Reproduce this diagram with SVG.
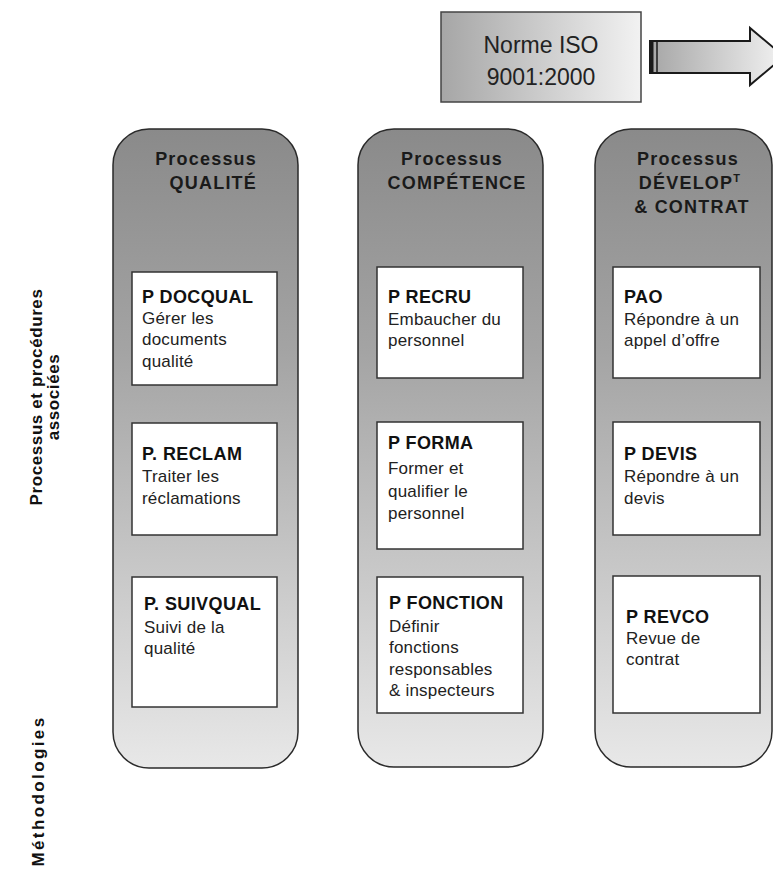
<svg xmlns="http://www.w3.org/2000/svg" width="773" height="873" viewBox="0 0 773 873">
<defs>
<linearGradient id="colGrad" x1="0" y1="0" x2="0" y2="1">
<stop offset="0" stop-color="#8a8a8a"/>
<stop offset="0.35" stop-color="#a4a4a4"/>
<stop offset="1" stop-color="#e8e8e8"/>
</linearGradient>
<linearGradient id="hGrad" x1="0" y1="0" x2="1" y2="0">
<stop offset="0" stop-color="#a6a6a6"/>
<stop offset="1" stop-color="#f2f2f2"/>
</linearGradient>
<style>
.col{fill:url(#colGrad);stroke:#2a2a2a;stroke-width:1.5}
.box{fill:#ffffff;stroke:#333333;stroke-width:1.5}
.hd{font-family:"Liberation Sans",Arial,sans-serif;font-weight:bold;font-size:18px;letter-spacing:1.2px;fill:#1a1a1a}
.bt{font-family:"Liberation Sans",Arial,sans-serif;font-weight:bold;font-size:18px;letter-spacing:0.4px;fill:#111}
.tx{font-family:"Liberation Sans",Arial,sans-serif;font-size:17px;letter-spacing:0.2px;fill:#222}
.side{font-family:"Liberation Sans",Arial,sans-serif;font-weight:bold;font-size:17px;letter-spacing:0.6px;fill:#111}
.iso{font-family:"Liberation Sans",Arial,sans-serif;font-size:23px;fill:#222}
</style>
</defs>

<g id="iso">
<rect x="441" y="12" width="200" height="90" fill="url(#hGrad)" stroke="#444" stroke-width="1.5"/>
<text class="iso" x="541" y="53" text-anchor="middle">Norme ISO</text>
<text class="iso" x="541" y="85" text-anchor="middle">9001:2000</text>
</g>

<g id="arrow">
<path d="M650,41 L750,41 L750,28 L784,56.5 L750,85 L750,73 L650,73 Z" fill="url(#hGrad)" stroke="#1a1a1a" stroke-width="2"/>
<rect x="650" y="41" width="3.5" height="32" fill="#1a1a1a"/>
<line x1="657" y1="41" x2="657" y2="73" stroke="#1a1a1a" stroke-width="1.5"/>
</g>

<g id="side-labels">
<text class="side" transform="translate(42,397) rotate(-90)" text-anchor="middle">Processus et procédures</text>
<text class="side" transform="translate(59,397) rotate(-90)" text-anchor="middle">associées</text>
<text class="side" transform="translate(44,791) rotate(-90)" text-anchor="middle" style="letter-spacing:2.4px">Méthodologies</text>
</g>

<g id="col-qualite">
<rect class="col" x="113" y="129" width="185" height="639" rx="36" ry="36"/>
<text class="hd" x="257" y="165" text-anchor="end">Processus</text>
<text class="hd" x="257" y="189" text-anchor="end">QUALITÉ</text>
</g>
<g id="col-competence">
<rect class="col" x="358" y="129" width="185" height="638" rx="36" ry="36"/>
<text class="hd" x="452" y="165" text-anchor="middle">Processus</text>
<text class="hd" x="457" y="189" text-anchor="middle">COMPÉTENCE</text>
</g>
<g id="col-develop">
<rect class="col" x="595" y="129" width="177" height="638" rx="36" ry="36"/>
<text class="hd" x="688" y="165" text-anchor="middle">Processus</text>
<text class="hd" x="690" y="189" text-anchor="middle">DÉVELOP<tspan font-size="11" dy="-7">T</tspan></text>
<text class="hd" x="692" y="213" text-anchor="middle">&amp; CONTRAT</text>
</g>

<g id="p-docqual">
<rect class="box" x="132" y="272" width="145" height="113"/>
<text class="bt" x="142" y="303">P DOCQUAL</text>
<text class="tx" x="142" y="324">Gérer les</text>
<text class="tx" x="142" y="345">documents</text>
<text class="tx" x="142" y="367">qualité</text>
</g>
<g id="p-reclam">
<rect class="box" x="132" y="423" width="145" height="112"/>
<text class="bt" x="142" y="460">P. RECLAM</text>
<text class="tx" x="142" y="482">Traiter les</text>
<text class="tx" x="142" y="504">réclamations</text>
</g>
<g id="p-suivqual">
<rect class="box" x="132" y="577" width="145" height="130"/>
<text class="bt" x="144" y="610">P. SUIVQUAL</text>
<text class="tx" x="144" y="633">Suivi de la</text>
<text class="tx" x="144" y="654">qualité</text>
</g>

<g id="p-recru">
<rect class="box" x="377" y="267" width="146" height="111"/>
<text class="bt" x="388" y="303">P RECRU</text>
<text class="tx" x="388" y="325">Embaucher du</text>
<text class="tx" x="388" y="346">personnel</text>
</g>
<g id="p-forma">
<rect class="box" x="377" y="422" width="146" height="127"/>
<text class="bt" x="388" y="449">P FORMA</text>
<text class="tx" x="388" y="474">Former et</text>
<text class="tx" x="388" y="497">qualifier le</text>
<text class="tx" x="388" y="519">personnel</text>
</g>
<g id="p-fonction">
<rect class="box" x="377" y="577" width="146" height="136"/>
<text class="bt" x="389" y="609">P FONCTION</text>
<text class="tx" x="389" y="632">Définir</text>
<text class="tx" x="389" y="653">fonctions</text>
<text class="tx" x="389" y="675">responsables</text>
<text class="tx" x="389" y="696">&amp; inspecteurs</text>
</g>

<g id="p-pao">
<rect class="box" x="613" y="267" width="147" height="111"/>
<text class="bt" x="624" y="303">PAO</text>
<text class="tx" x="624" y="325">Répondre à un</text>
<text class="tx" x="624" y="346">appel d’offre</text>
</g>
<g id="p-devis">
<rect class="box" x="613" y="422" width="147" height="113"/>
<text class="bt" x="624" y="460">P DEVIS</text>
<text class="tx" x="624" y="482">Répondre à un</text>
<text class="tx" x="624" y="504">devis</text>
</g>
<g id="p-revco">
<rect class="box" x="613" y="576" width="147" height="137"/>
<text class="bt" x="626" y="623">P REVCO</text>
<text class="tx" x="626" y="644">Revue de</text>
<text class="tx" x="626" y="665">contrat</text>
</g>

<g id="connectors"></g>
</svg>
